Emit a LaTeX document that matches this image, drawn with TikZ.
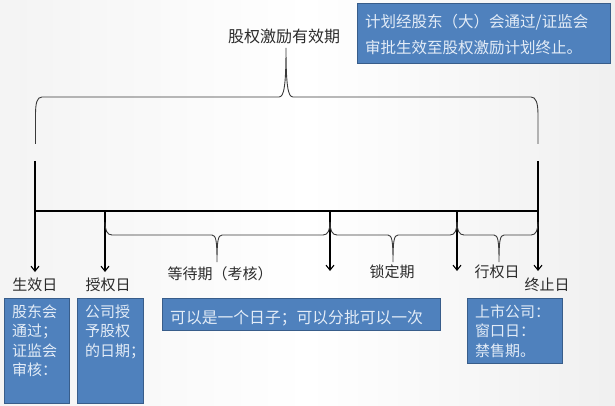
\documentclass[tikz,border=0pt]{standalone}
\usepackage{fontspec}
\setmainfont{Noto Sans CJK SC}
\usetikzlibrary{arrows.meta}
\definecolor{boxfill}{HTML}{4F81BD}
\definecolor{boxline}{HTML}{385D8A}
\definecolor{boxtext}{HTML}{E3ECF7}
\definecolor{labeltext}{HTML}{2B2B2B}
\definecolor{bracecol}{HTML}{3A3A3A}
\tikzset{
  bluebox/.style={draw=boxline, line width=1pt, fill=boxfill, inner sep=0pt, anchor=north west},
  boxtxt/.style={text=boxtext, inner sep=0pt, anchor=north west, align=left, font=\fontsize{15}{19.5}\selectfont},
  lbl/.style={text=labeltext, inner sep=0pt, font=\fontsize{15}{18}\selectfont},
  bracepath/.style={draw=bracecol, line width=0.9pt},
  timeline/.style={draw=black, line width=1.1pt},
  downarrow/.style={draw=black, line width=1.1pt, -{Straight Barb[length=5pt,width=8pt,line width=1.1pt]}}
}
\begin{document}
\begin{tikzpicture}[x=1pt,y=-1pt]
\useasboundingbox (0,0) rectangle (615,406);
\shade[left color=gray!9, right color=gray!12, middle color=white] (0,0) rectangle (615,406);

% big brace
\draw[bracepath] (35.5,144) -- (35.5,115) .. controls (35.5,103) and (37,97) .. (42,97)
  -- (279,97) .. controls (284,97) and (286,86) .. (286,48)
  .. controls (286,86) and (288,97) .. (293,97) -- (531,97)
  .. controls (536,97) and (538,103) .. (538,115) -- (538,144);
\node[lbl, font=\fontsize{16}{18}\selectfont] (period) at (284,36) {股权激励有效期};

% top-right note
\node[bluebox, minimum width=253pt, minimum height=60pt] (note) at (357,3) {};
\node[boxtxt, font=\fontsize{15.5}{26}\selectfont] (notetxt) at (365,14.5) {计划经股东（大）会通过/证监会\\审批生效至股权激励计划终止。};

% timeline
\coordinate (tl0) at (35,211);
\coordinate (tl1) at (538,211);
\draw[timeline] (tl0) -- (tl1);

% arrows
\coordinate (a0s) at (35,161);   \coordinate (a0e) at (35,272);
\coordinate (a1s) at (105,211);  \coordinate (a1e) at (105,272);
\coordinate (a2s) at (330,211);  \coordinate (a2e) at (330,271);
\coordinate (a3s) at (457,211);  \coordinate (a3e) at (457,271);
\coordinate (a4s) at (538,161);  \coordinate (a4e) at (538,271);
\foreach \s/\e in {a0s/a0e,a1s/a1e,a2s/a2e,a3s/a3e,a4s/a4e}
  \draw[downarrow] (\s) -- (\e);

% small braces
\foreach \xa/\xb/\xm in {105/330/217, 330/457/393, 457/538/499}{
  \draw[bracepath] (\xa,222) .. controls (\xa,230) and (\xa+2,235) .. (\xa+7,235)
    -- (\xm-5,235) .. controls (\xm-1,235) and (\xm,241) .. (\xm,262)
    .. controls (\xm,241) and (\xm+1,235) .. (\xm+5,235)
    -- (\xb-7,235) .. controls (\xb-2,235) and (\xb,230) .. (\xb,222);
}

% labels
\node[lbl] (effday) at (35,285) {生效日};
\node[lbl] (grantday) at (108,285) {授权日};
\node[lbl] (wait) at (220,274) {等待期（考核）};
\node[lbl] (lock) at (392,272) {锁定期};
\node[lbl] (exday) at (497,272) {行权日};
\node[lbl] (endday) at (547,285) {终止日};

% bottom boxes
\node[bluebox, minimum width=65pt, minimum height=105pt] (b1) at (4,298) {};
\node[boxtxt] (t1) at (12,304.5) {股东会\\通过；\\证监会\\审核：};
\node[bluebox, minimum width=66pt, minimum height=105pt] (b2) at (77,298) {};
\node[boxtxt] (t2) at (85,304.5) {公司授\\予股权\\的日期；};
\node[bluebox, minimum width=278pt, minimum height=32pt] (b3) at (162,298) {};
\node[boxtxt, font=\fontsize{15.8}{19.5}\selectfont] (t3) at (170,310) {可以是一个日子；可以分批可以一次};
\node[bluebox, minimum width=95pt, minimum height=65pt] (b4) at (467,298) {};
\node[boxtxt] (t4) at (475,304.5) {上市公司：\\窗口日：\\禁售期。};
\end{tikzpicture}
\end{document}
